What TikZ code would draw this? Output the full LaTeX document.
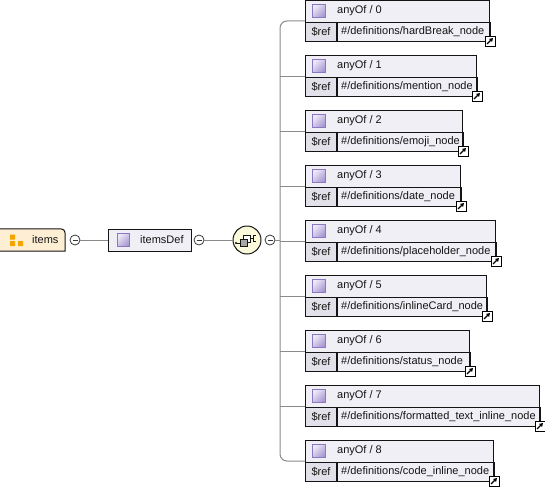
\documentclass[tikz,border=0pt]{standalone}
\usepackage{fontspec}
\setmainfont{Liberation Sans}
\usetikzlibrary{arrows.meta,positioning,calc}
\definecolor{ink}{HTML}{141414}
\definecolor{wire}{HTML}{8A8A8A}
\definecolor{hdrfill}{HTML}{F1EFF6}
\definecolor{reffill}{HTML}{E2E0E8}
\definecolor{lav}{HTML}{A898D2}
\definecolor{lavlight}{HTML}{ECE8F8}
\definecolor{lavedge}{HTML}{8C78C2}
\definecolor{itemfill}{HTML}{FEEFD4}
\definecolor{itemsq}{HTML}{F4A300}
\definecolor{choicefill}{HTML}{FBF9DC}

\begin{document}
\begin{tikzpicture}[x=1pt,y=-1pt,
  every node/.style={font=\fontsize{11}{13}\selectfont,text=ink},
  cell/.style={rectangle,draw=ink,line width=1pt,inner sep=0pt,anchor=north west},
  tag/.style={inner sep=0pt,anchor=west},
  sq/.style={rectangle,draw=lavedge,line width=0.8pt,top color=lavlight,bottom color=lav,shading angle=45,
    minimum size=12.5pt,inner sep=0pt},
  minus/.style={circle,draw=ink!85,fill=white,line width=0.8pt,minimum size=10pt,inner sep=0pt,
    path picture={\draw[line width=0.9pt] ([xshift=-2.5pt]path picture bounding box.center)
      --([xshift=2.5pt]path picture bounding box.center);}},
  link/.style={rectangle,draw=black,fill=white,line width=0.9pt,minimum size=10pt,inner sep=0pt,
    path picture={\draw[-{Triangle[length=3.5pt,width=4pt]},line width=1.1pt]
      ([shift={(-3pt,-3pt)}]path picture bounding box.center)
      --([shift={(3pt,3pt)}]path picture bounding box.center);}},
  wire/.style={draw=wire,line width=1pt},
]
  \useasboundingbox (0,0) rectangle (545,487);

  % root element
  \node[minimum width=66pt,minimum height=22pt,inner sep=0pt] (items) at (32,240) {};
  \draw[fill=itemfill,draw=ink,line width=1pt] (items.south west) -- (items.north west)
    -- ([xshift=-7pt]items.north east) .. controls ([xshift=-1pt]items.north east)
    and ([yshift=-1pt]items.north east) .. ([yshift=-7pt]items.north east)
    -- (items.south east) -- cycle;
  \fill[itemsq] (10,234.5) rectangle (15,239.5) (10,241) rectangle (15,246) (18,241) rectangle (23,246);
  \node[tag] at (32,240) {items};
  \node[minus] (m1) at (75,240) {};

  % type definition
  \node[cell,anchor=center,fill=hdrfill,minimum width=83pt,minimum height=22pt] (def) at (149.5,240) {};
  \node[sq] at (123.5,240) {};
  \node[tag] at (140,240) {itemsDef};
  \node[minus] (m2) at (199,240) {};

  % choice compositor
  \node[circle,draw=ink,fill=choicefill,line width=1pt,minimum size=28pt,inner sep=0pt] (choice) at (247,240) {};
  \draw[ink,line width=0.8pt] (236,243) -- (240,243);
  \fill[ink] (236,243) circle (1.2pt);
  \draw[ink,line width=0.8pt,fill=white] (243,235) rectangle (250,242);
  \draw[ink,line width=0.8pt,fill=gray!70] (240,239) rectangle (247,246);
  \draw[ink,line width=0.8pt] (250,238) -- (253,238) (253,235) -- (253,241) (253,235) -- (256,235) (253,241) -- (256,241);
  \node[minus] (m3) at (270,240) {};
  \coordinate (fork) at (280,240);

  \draw[wire] (m1) -- (def);
  \draw[wire] (m2) -- (choice);
  \draw[wire] (m3) -- (fork);

  % anyOf members
  \foreach \i/\t/\w/\lbl in {0/0/184/hardBreak\_node,1/55/171/mention\_node,2/110/157/emoji\_node,
      3/165/155/date\_node,4/220/190/placeholder\_node,5/275/181/inlineCard\_node,
      6/330/164/status\_node,7/385/234/formatted\_text\_inline\_node,8/440/188/code\_inline\_node}{
    \node[cell,fill=hdrfill,minimum width=\w pt,minimum height=41pt] (b\i) at (305,\t) {};
    \node[cell,anchor=south west,fill=reffill,minimum width=31pt,minimum height=19pt] (r\i) at (b\i.south west) {\$ref};
    \node[cell,anchor=south west,minimum width=\w pt-31pt,minimum height=19pt] (v\i) at (r\i.south east) {};
    \node[tag] at ([xshift=4pt]r\i.east) {\#/definitions/\lbl};
    \node[sq] at (319,\t+11) {};
    \node[tag] at (337,\t+11) {anyOf / \i};
    \node[link] at ([yshift=1pt]b\i.south east) {};
  }
  \draw[wire,rounded corners=7pt] (fork) |- (b0.west);
  \draw[wire,rounded corners=7pt] (fork) |- (b8.west);
  \foreach \i in {1,...,7}{
    \draw[wire] (fork |- b\i.west) -- (b\i.west);
  }
\end{tikzpicture}
\end{document}
